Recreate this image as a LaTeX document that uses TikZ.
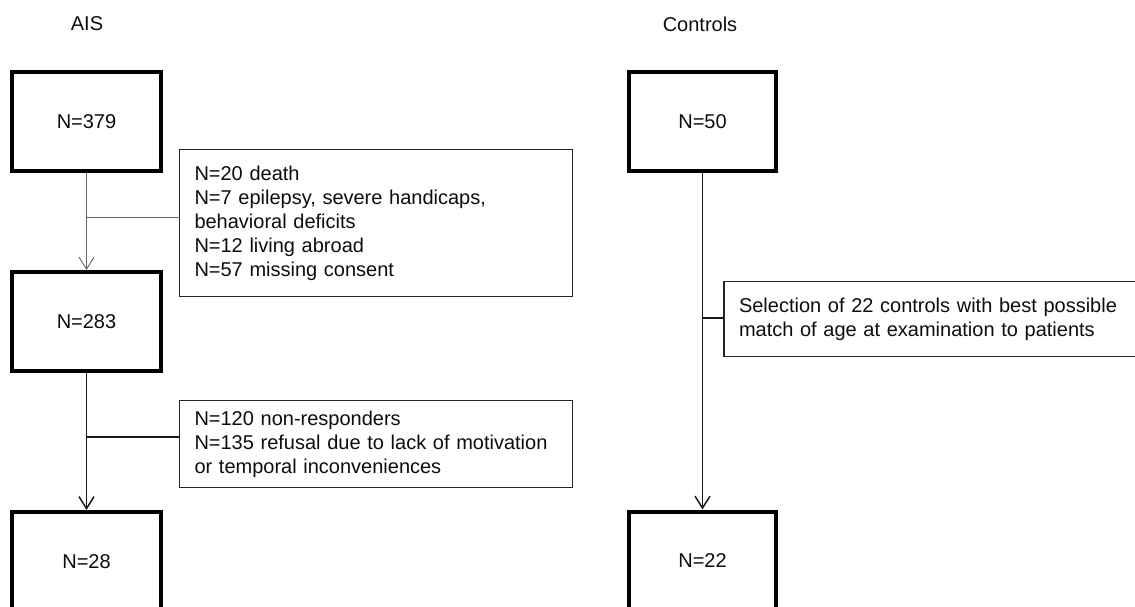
\documentclass[tikz,border=0pt]{standalone}
\usepackage{fontspec}
\setmainfont{Liberation Sans}
\usetikzlibrary{arrows.meta,calc}
\begin{document}
\begin{tikzpicture}[x=1pt,y=-1pt,
  txt/.style={font=\fontsize{20}{24}\selectfont, text=black!95},
  bigbox/.style={txt, draw=black, line width=4pt, minimum width=149pt, minimum height=99pt, inner sep=0pt, outer sep=2pt},
  sidebox/.style={txt, draw=black!85, line width=1.3pt, align=left, inner xsep=15pt, inner ysep=0pt, outer sep=0pt},
  thinline/.style={draw=black!60, line width=0.9pt},
  thickline/.style={draw=black!90, line width=1.5pt},
  tip/.style={-{Straight Barb[length=12pt,width=15pt]}}
]
\useasboundingbox (0,0) rectangle (1135,607);
% titles
\node[txt] (ais) at (87,24) {AIS};
\node[txt] (ctl) at (700,24) {Controls};
% AIS column
\node[bigbox] (a1) at (86.5,121.5) {N=379};
\node[bigbox] (a2) at (86.5,321.5) {N=283};
\node[bigbox] (a3) at (86.5,561.5) {N=28};
\node[sidebox, text width=363pt, minimum height=147pt] (s1) at (376,223) {N=20 death\\N=7 epilepsy, severe handicaps,\\behavioral deficits\\N=12 living abroad\\N=57 missing consent};
\node[sidebox, text width=363pt, minimum height=87pt] (s2) at (376,444) {N=120 non-responders\\N=135 refusal due to lack of motivation\\or temporal inconveniences};
% Controls column
\node[bigbox, minimum width=147pt] (c1) at (702.5,121.5) {N=50};
\node[bigbox, minimum width=147pt] (c2) at (702.5,561) {N=22};
\node[sidebox, text width=400pt, minimum height=75pt] (s3) at (939,319) {Selection of 22 controls with best possible\\match of age at examination to patients};
% connectors
\coordinate (j1) at (86.5,217);
\coordinate (j2) at (86.5,437);
\coordinate (j3) at (702.5,318);
\draw[thinline, tip] (a1) -- (a2);
\draw[thinline] (j1) -- (j1 -| s1.west);
\draw[thickline, tip] (a2) -- (a3);
\draw[thickline] (j2) -- (j2 -| s2.west);
\draw[thickline, tip] (c1) -- (c2);
\draw[thickline] (j3) -- (j3 -| s3.west);
\end{tikzpicture}
\end{document}
